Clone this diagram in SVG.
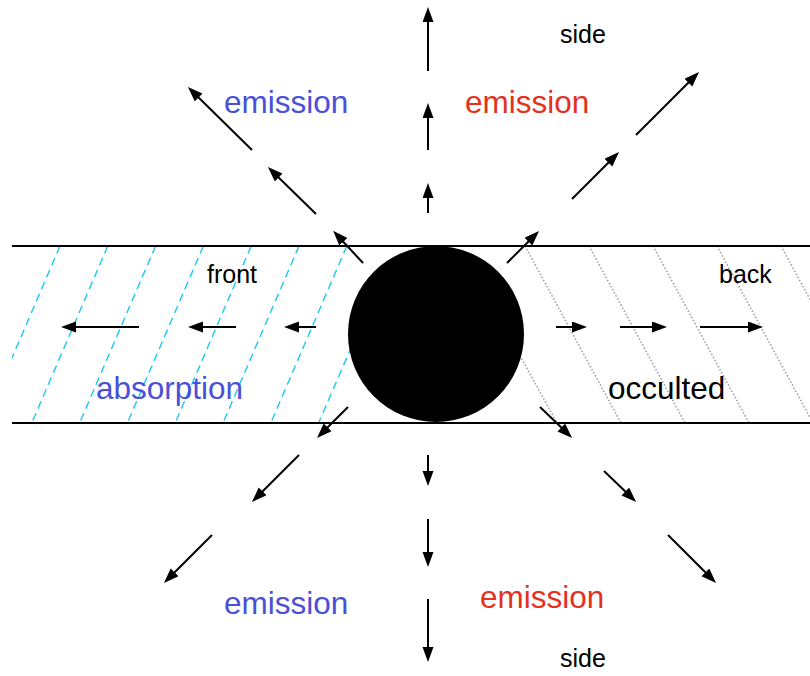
<svg xmlns="http://www.w3.org/2000/svg" width="810" height="676" viewBox="0 0 810 676">
  <style>
    .band { stroke: #000; stroke-width: 2; fill: none; }
    .cyan { stroke: #1ec8f0; stroke-width: 1.4; stroke-dasharray: 8 5; fill: none; }
    .gray { stroke: #9a9a9a; stroke-width: 1.5; stroke-dasharray: 1.5 2; fill: none; }
    .arr { stroke: #000; stroke-width: 2; fill: none; marker-end: url(#head); }
    .big { font-family: "Liberation Sans", Arial, sans-serif; font-size: 31.5px; }
    .small { font-family: "Liberation Sans", Arial, sans-serif; font-size: 25px; fill: #000; }
    .blue { fill: #4a50d8; }
    .red { fill: #e2321e; }
    .black { fill: #000; }
  </style>
  <defs>
    <marker id="head" markerUnits="userSpaceOnUse" markerWidth="16" markerHeight="12" refX="9" refY="5.5" orient="auto">
      <path d="M0,0 L15,5.5 L0,11 z" fill="#000"/>
    </marker>
    <clipPath id="bandclip">
      <rect x="12" y="246" width="798" height="177"/>
    </clipPath>
  </defs>

  <g id="hatch-front" clip-path="url(#bandclip)">
    <line class="cyan" x1="60" y1="246" x2="-16" y2="423"/>
    <line class="cyan" x1="107.8" y1="246" x2="31.8" y2="423"/>
    <line class="cyan" x1="155.6" y1="246" x2="79.6" y2="423"/>
    <line class="cyan" x1="203.4" y1="246" x2="127.4" y2="423"/>
    <line class="cyan" x1="251.2" y1="246" x2="175.2" y2="423"/>
    <line class="cyan" x1="299" y1="246" x2="223" y2="423"/>
    <line class="cyan" x1="346.8" y1="246" x2="270.8" y2="423"/>
    <line class="cyan" x1="357" y1="334" x2="318.6" y2="423"/>
  </g>

  <g id="hatch-back" clip-path="url(#bandclip)">
    <line class="gray" x1="508" y1="334" x2="557" y2="423"/>
    <line class="gray" x1="525" y1="246" x2="621" y2="423"/>
    <line class="gray" x1="589" y1="246" x2="685" y2="423"/>
    <line class="gray" x1="653" y1="246" x2="749" y2="423"/>
    <line class="gray" x1="717" y1="246" x2="813" y2="423"/>
    <line class="gray" x1="781" y1="246" x2="877" y2="423"/>
  </g>

  <g id="band">
    <line class="band" x1="12" y1="246" x2="810" y2="246"/>
    <line class="band" x1="12" y1="423" x2="810" y2="423"/>
  </g>

  <g id="star">
    <circle cx="436" cy="334" r="88" fill="#000"/>
  </g>

  <g id="connectors">
    <line class="arr" x1="139" y1="327" x2="67" y2="327"/>
    <line class="arr" x1="236" y1="327" x2="194" y2="327"/>
    <line class="arr" x1="316" y1="327" x2="290" y2="327"/>

    <line class="arr" x1="556" y1="327" x2="581" y2="327"/>
    <line class="arr" x1="620" y1="327" x2="661" y2="327"/>
    <line class="arr" x1="700" y1="327" x2="757" y2="327"/>

    <line class="arr" x1="428" y1="213" x2="428" y2="189"/>
    <line class="arr" x1="428" y1="150" x2="428" y2="109"/>
    <line class="arr" x1="428" y1="71" x2="428" y2="13"/>

    <line class="arr" x1="428" y1="455" x2="428" y2="480"/>
    <line class="arr" x1="428" y1="519" x2="428" y2="561"/>
    <line class="arr" x1="428" y1="599" x2="428" y2="656"/>

    <line class="arr" x1="363" y1="263" x2="337.2" y2="235.2"/>
    <line class="arr" x1="316" y1="214" x2="272.2" y2="171.2"/>
    <line class="arr" x1="252" y1="150" x2="192.2" y2="91.2"/>

    <line class="arr" x1="507" y1="263" x2="534.8" y2="235.2"/>
    <line class="arr" x1="572" y1="199" x2="614.8" y2="156.2"/>
    <line class="arr" x1="636" y1="135" x2="694.8" y2="76.2"/>

    <line class="arr" x1="348" y1="407" x2="321.2" y2="433.8"/>
    <line class="arr" x1="299" y1="455" x2="256.2" y2="497.8"/>
    <line class="arr" x1="212" y1="535" x2="168.2" y2="578.8"/>

    <line class="arr" x1="540" y1="407" x2="567.8" y2="433.8"/>
    <line class="arr" x1="604" y1="471" x2="631.8" y2="497.8"/>
    <line class="arr" x1="668" y1="535" x2="711.8" y2="578.8"/>
  </g>

  <g id="labels">
    <text class="small" x="560" y="43">side</text>
    <text class="big blue" x="224" y="113">emission</text>
    <text class="big red" x="465" y="113">emission</text>
    <text class="small" x="207" y="283">front</text>
    <text class="small" x="719" y="283">back</text>
    <text class="big blue" x="96" y="399">absorption</text>
    <text class="big black" x="608" y="399">occulted</text>
    <text class="big blue" x="224" y="614">emission</text>
    <text class="big red" x="480" y="608">emission</text>
    <text class="small" x="560" y="667">side</text>
  </g>
</svg>
